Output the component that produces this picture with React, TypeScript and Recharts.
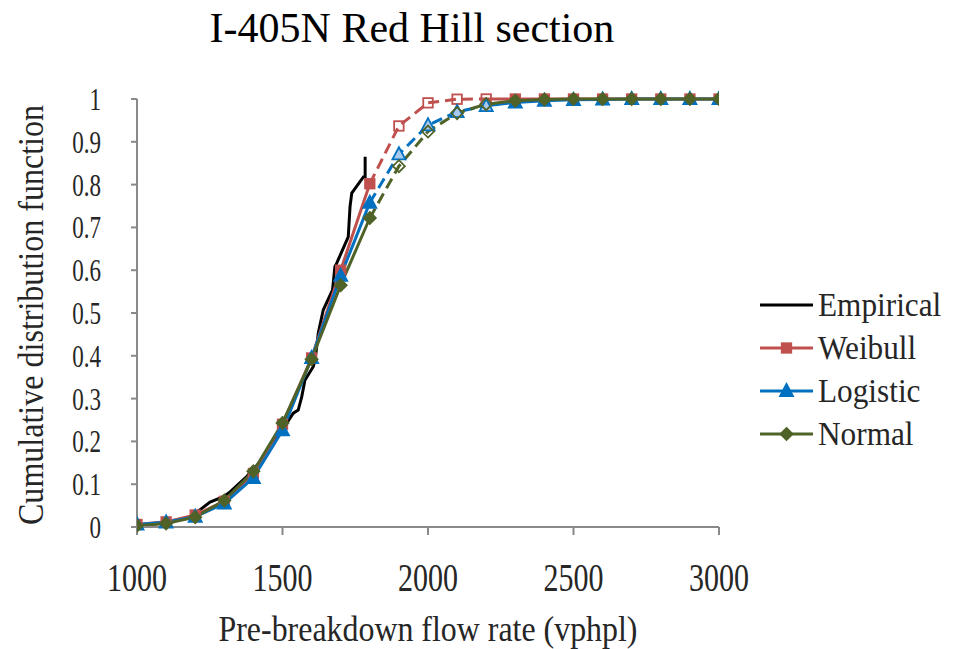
import React from 'react';
import { LineChart, Line, XAxis, YAxis, Legend } from 'recharts';

const flowRates = [1000, 1100, 1200, 1300, 1400, 1500, 1600, 1700, 1800, 1900, 2000, 2100, 2200, 2300, 2400, 2500, 2600, 2700, 2800, 2900, 3000];
const weibullCdf = [0.006, 0.012, 0.028, 0.06, 0.125, 0.24, 0.395, 0.6, 0.802, 0.937, 0.991, 0.9995, 1, 1, 1, 1, 1, 1, 1, 1, 1];
const logisticCdf = [0.006, 0.011, 0.024, 0.055, 0.115, 0.226, 0.395, 0.587, 0.758, 0.871, 0.939, 0.97, 0.984, 0.992, 0.996, 0.998, 0.999, 1, 1, 1, 1];
const normalCdf = [0.003, 0.008, 0.023, 0.062, 0.13, 0.243, 0.392, 0.565, 0.722, 0.843, 0.924, 0.967, 0.988, 0.996, 0.999, 1, 1, 1, 1, 1, 1];

const empiricalFlow = [1000, 1100, 1180, 1216, 1251, 1297, 1320, 1377, 1420, 1460, 1514, 1537, 1554, 1566, 1577, 1606, 1612, 1623, 1640, 1672, 1680, 1686, 1726, 1732, 1738, 1778, 1784, 1784];
const empiricalCdf = [0.003, 0.01, 0.022, 0.04, 0.058, 0.071, 0.082, 0.118, 0.15, 0.195, 0.242, 0.266, 0.273, 0.304, 0.343, 0.375, 0.39, 0.453, 0.507, 0.554, 0.608, 0.616, 0.678, 0.748, 0.78, 0.818, 0.818, 0.865];

const xTicks = [1000, 1500, 2000, 2500, 3000];
const yTicks = [0, 0.1, 0.2, 0.3, 0.4, 0.5, 0.6, 0.7, 0.8, 0.9, 1];
const seriesNames = ['Empirical', 'Weibull', 'Logistic', 'Normal'];
const chartTitle = 'I-405N Red Hill section';
const xTitle = 'Pre-breakdown flow rate (vphpl)';
const yTitle = 'Cumulative distribution function';

// index where observed range ends (1800) and where extrapolated range ends (2200)
const OBS_END = 8;
const EXT_END = 12;

const FONT = '"Liberation Serif", "Times New Roman", serif';
const AXIS = '#898989';
const TXT = '#262626';
const LW = 3;

type Pt = { x: number; y: number };
const toPoints = (xs: number[], ys: number[]): Pt[] => xs.map((x, i) => ({ x, y: ys[i] }));

const fits = [
  { name: seriesNames[1], values: weibullCdf, color: '#C0504D', shape: 'square', hollowFill: 'none' },
  { name: seriesNames[2], values: logisticCdf, color: '#0070C0', shape: 'triangle', hollowFill: '#A9C9EE' },
  { name: seriesNames[3], values: normalCdf, color: '#4F6228', shape: 'diamond', hollowFill: 'none' },
];

function markerEl(shape: string, cx: number, cy: number, stroke: string, fill: string, key: string) {
  if (shape === 'square') {
    const s = 9.5;
    return <rect key={key} x={cx - s / 2} y={cy - s / 2} width={s} height={s} fill={fill} stroke={stroke} strokeWidth={1.8} />;
  }
  if (shape === 'triangle') {
    return <polygon key={key} points={`${cx},${cy - 7} ${cx + 6.5},${cy + 5.2} ${cx - 6.5},${cy + 5.2}`} fill={fill} stroke={stroke} strokeWidth={1.8} />;
  }
  return <polygon key={key} points={`${cx},${cy - 6} ${cx + 6},${cy} ${cx},${cy + 6} ${cx - 6},${cy}`} fill={fill} stroke={stroke} strokeWidth={1.8} />;
}

function dotRenderer(shape: string, stroke: string, fill: string, skipFirst: boolean) {
  return (p: any) => {
    const key = `d-${shape}-${fill}-${p.index}`;
    if ((skipFirst && p.index === 0) || p.cx == null || p.cy == null) return <g key={key} />;
    return markerEl(shape, p.cx, p.cy, stroke, fill, key);
  };
}

const YTick = (props: any) => {
  const { x, y, payload } = props;
  return (
    <g transform={`translate(${x},${y})`}>
      <text transform="scale(0.72,1)" textAnchor="end" dominantBaseline="central" fontSize={32} fontFamily={FONT} fill={TXT}>
        {String(payload.value)}
      </text>
    </g>
  );
};

const XTick = (props: any) => {
  const { x, y, payload } = props;
  return (
    <g transform={`translate(${x},${y + 42})`}>
      <text transform="scale(0.75,1)" textAnchor="middle" dominantBaseline="central" fontSize={40} fontFamily={FONT} fill={TXT}>
        {String(payload.value)}
      </text>
    </g>
  );
};

const LegendContent = () => {
  const rows = [
    { name: seriesNames[0], color: '#000000', shape: '' },
    ...fits.map((f) => ({ name: f.name, color: f.color, shape: f.shape })),
  ];
  return (
    <svg width={200} height={180} style={{ display: 'block' }}>
      {rows.map((r, i) => {
        const cy = 25 + i * 43;
        return (
          <g key={r.name}>
            <line x1={10} x2={63} y1={cy} y2={cy} stroke={r.color} strokeWidth={LW} />
            {r.shape ? markerEl(r.shape, 36.5, cy, r.color, r.color, 'm' + i) : null}
            <text transform={`translate(68,${cy + 11}) scale(0.92,1)`} fontSize={34} fontFamily={FONT} fill={TXT}>
              {r.name}
            </text>
          </g>
        );
      })}
    </svg>
  );
};

export default function App() {
  const empirical = toPoints(empiricalFlow, empiricalCdf);
  return (
    <div style={{ position: 'absolute', left: 0, top: 0, width: 956, height: 649, background: '#fff' }}>
      <LineChart width={956} height={649} margin={{ top: 99, right: 237, bottom: 62, left: 37 }}>
        <XAxis
          dataKey="x"
          type="number"
          domain={[1000, 3000]}
          ticks={xTicks}
          interval={0}
          allowDataOverflow
          tick={<XTick />}
          tickSize={8}
          tickMargin={0}
          height={60}
          axisLine={{ stroke: AXIS, strokeWidth: 2 }}
          tickLine={{ stroke: AXIS, strokeWidth: 2 }}
        />
        <XAxis
          xAxisId="top"
          orientation="top"
          dataKey="x"
          type="number"
          domain={[1000, 3000]}
          height={0}
          tick={false}
          tickLine={false}
          axisLine={{ stroke: AXIS, strokeWidth: 2 }}
        />
        <YAxis
          type="number"
          domain={[0, 1]}
          ticks={yTicks}
          interval={0}
          width={100}
          tick={<YTick />}
          tickSize={6}
          tickMargin={30}
          axisLine={{ stroke: AXIS, strokeWidth: 2 }}
          tickLine={{ stroke: AXIS, strokeWidth: 2 }}
        />
        <YAxis
          yAxisId="right"
          orientation="right"
          type="number"
          domain={[0, 1]}
          width={0}
          tick={false}
          tickLine={false}
          axisLine={{ stroke: AXIS, strokeWidth: 2 }}
        />
        <Legend layout="vertical" align="center" verticalAlign="middle" content={<LegendContent />} wrapperStyle={{ left: 750, top: 280, width: 200, height: 180 }} />
        <Line
          data={empirical}
          dataKey="y"
          name={seriesNames[0]}
          type="linear"
          stroke="#000000"
          strokeWidth={LW}
          dot={false}
          activeDot={false}
          isAnimationActive={false}
        />
        {fits.map((f) => {
          const pts = toPoints(flowRates, f.values);
          return (
            <React.Fragment key={f.name}>
              <Line
                data={pts.slice(0, OBS_END + 1)}
                dataKey="y"
                name={f.name}
                type="linear"
                stroke={f.color}
                strokeWidth={LW}
                dot={dotRenderer(f.shape, f.color, f.color, false)}
                activeDot={false}
                isAnimationActive={false}
              />
              <Line
                data={pts.slice(OBS_END, EXT_END + 1)}
                dataKey="y"
                name={f.name + ' (extrapolated)'}
                type="linear"
                stroke={f.color}
                strokeWidth={LW}
                strokeDasharray="11 6"
                dot={dotRenderer(f.shape, f.color, f.hollowFill, true)}
                activeDot={false}
                legendType="none"
                isAnimationActive={false}
              />
              <Line
                data={pts.slice(EXT_END)}
                dataKey="y"
                name={f.name + ' (tail)'}
                type="linear"
                stroke={f.color}
                strokeWidth={LW}
                dot={dotRenderer(f.shape, f.color, f.color, true)}
                activeDot={false}
                legendType="none"
                isAnimationActive={false}
              />
            </React.Fragment>
          );
        })}
      </LineChart>
      <svg width={956} height={649} style={{ position: 'absolute', left: 0, top: 0, pointerEvents: 'none' }}>
        <text x={412} y={42} textAnchor="middle" fontSize={42} fontFamily={FONT} fill="#000">
          {chartTitle}
        </text>
        <text x={428} y={641} textAnchor="middle" fontSize={36} fontFamily={FONT} fill={TXT} textLength={419} lengthAdjust="spacingAndGlyphs">
          {xTitle}
        </text>
        <text transform="translate(43,315) rotate(-90)" textAnchor="middle" fontSize={36} fontFamily={FONT} fill={TXT} textLength={420} lengthAdjust="spacingAndGlyphs">
          {yTitle}
        </text>
      </svg>
    </div>
  );
}
